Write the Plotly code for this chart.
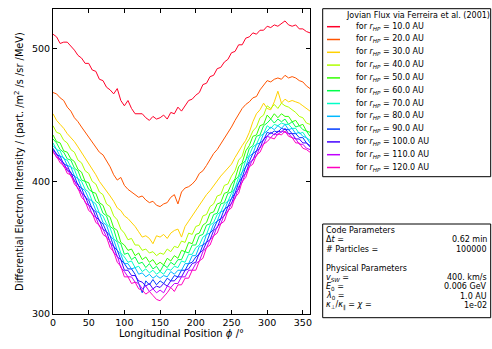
import plotly.graph_objects as go

# ---------------- data ----------------
phi = list(range(0, 361, 5))
r_hp = [10.0, 20.0, 30.0, 40.0, 50.0, 60.0, 70.0, 80.0, 90.0, 100.0, 110.0, 120.0]

flux_10 = [511, 509, 504, 505, 505,
           502, 499, 495, 493, 489,
           489, 484, 483, 477, 476,
           471, 469, 466, 470, 461,
           457, 461, 455, 451, 451,
           451, 448, 446, 449, 447,
           448, 450, 447, 452, 451,
           456, 453, 457, 461, 462,
           465, 467, 473, 474, 479,
           480, 485, 486, 490, 492,
           497, 498, 503, 503, 508,
           509, 512, 511, 514, 514,
           517, 516, 518, 517, 519,
           521, 518, 517, 518, 515,
           515, 513, 512]
flux_20 = [467, 466, 463, 461, 456,
           453, 448, 445, 441, 437,
           433, 429, 426, 422, 420,
           416, 411, 405, 401, 403,
           397, 394, 392, 390, 388,
           389, 386, 384, 385, 382,
           381, 383, 384, 388, 390,
           383, 392, 395, 396, 398,
           401, 406, 408, 412, 417,
           421, 424, 428, 433, 437,
           441, 446, 451, 455, 458,
           460, 463, 464, 469, 473,
           476, 475, 477, 478, 477,
           480, 478, 479, 478, 476,
           475, 472, 470]
flux_30 = [451, 446, 443, 440, 436,
           433, 430, 426, 422, 418,
           414, 409, 405, 400, 396,
           393, 389, 385, 380, 378,
           374, 372, 369, 366, 362,
           358, 359, 357, 353, 359,
           358, 360, 357, 361, 363,
           364, 358, 366, 370, 374,
           378, 383, 386, 390, 393,
           397, 400, 404, 407, 410,
           413, 418, 423, 427, 431,
           437, 445, 451, 454, 459,
           455, 454, 460, 468, 459,
           462, 460, 461, 460, 459,
           457, 455, 453]
flux_40 = [442, 437, 436, 431, 429,
           424, 422, 416, 414, 408,
           406, 400, 398, 392, 390,
           383, 381, 374, 371, 364,
           361, 356, 357, 352, 352,
           348, 349, 346, 347, 344,
           346, 345, 349, 347, 351,
           350, 355, 354, 361, 360,
           366, 367, 374, 375, 381,
           383, 389, 390, 397, 398,
           404, 408, 416, 419, 428,
           432, 438, 441, 448, 450,
           457, 455, 458, 455, 459,
           457, 456, 454, 452, 449,
           448, 444, 443]
flux_50 = [435, 430, 429, 423, 422,
           417, 415, 409, 407, 400,
           399, 392, 391, 384, 382,
           375, 373, 365, 363, 354,
           352, 348, 349, 344, 346,
           341, 343, 339, 341, 337,
           339, 337, 342, 340, 344,
           342, 348, 347, 354, 353,
           360, 361, 367, 369, 376,
           377, 383, 384, 391, 392,
           398, 402, 411, 414, 423,
           427, 434, 435, 442, 443,
           450, 447, 451, 448, 451,
           449, 449, 445, 446, 442,
           443, 438, 437]
flux_60 = [432, 429, 424, 422, 417,
           416, 410, 408, 401, 400,
           394, 392, 385, 383, 376,
           374, 366, 364, 355, 353,
           345, 346, 341, 343, 338,
           339, 335, 338, 334, 336,
           332, 337, 335, 339, 337,
           341, 341, 347, 346, 352,
           352, 359, 360, 367, 368,
           375, 376, 383, 384, 391,
           392, 401, 404, 413, 416,
           425, 427, 434, 435, 442,
           444, 447, 444, 447, 445,
           447, 443, 445, 441, 442,
           439, 438, 434]
flux_70 = [429, 424, 423, 417, 416,
           411, 409, 402, 400, 394,
           392, 385, 383, 376, 374,
           368, 365, 357, 354, 346,
           343, 339, 340, 335, 336,
           332, 334, 331, 333, 330,
           332, 330, 334, 333, 336,
           335, 340, 339, 345, 345,
           350, 352, 358, 360, 367,
           369, 375, 377, 383, 385,
           391, 395, 403, 407, 416,
           420, 426, 428, 434, 436,
           442, 440, 443, 442, 444,
           443, 443, 440, 440, 436,
           437, 433, 431]
flux_80 = [427, 424, 419, 418, 412,
           411, 404, 402, 395, 393,
           387, 385, 378, 376, 369,
           367, 359, 356, 348, 345,
           338, 338, 334, 335, 330,
           331, 328, 330, 327, 329,
           327, 329, 328, 332, 330,
           333, 333, 338, 338, 344,
           344, 351, 352, 360, 361,
           368, 370, 377, 378, 385,
           387, 395, 399, 407, 411,
           419, 421, 428, 429, 436,
           438, 441, 439, 442, 440,
           443, 439, 440, 436, 437,
           434, 433, 429]
flux_90 = [425, 420, 419, 413, 412,
           406, 404, 397, 395, 388,
           386, 379, 377, 370, 368,
           362, 359, 351, 348, 341,
           338, 334, 334, 330, 323,
           316, 325, 322, 326, 322,
           325, 323, 327, 325, 329,
           328, 333, 333, 338, 339,
           343, 345, 352, 354, 361,
           364, 370, 372, 379, 381,
           387, 391, 399, 403, 411,
           415, 421, 423, 429, 431,
           437, 436, 438, 437, 440,
           439, 439, 436, 436, 433,
           433, 429, 427]
flux_100 = [424, 421, 416, 414, 408,
            407, 400, 398, 391, 389,
            382, 380, 373, 371, 364,
            362, 354, 351, 343, 341,
            333, 333, 329, 329, 325,
            324, 321, 323, 319, 321,
            320, 323, 321, 325, 325,
            328, 328, 333, 334, 338,
            339, 346, 348, 354, 356,
            363, 365, 372, 374, 381,
            383, 391, 394, 403, 406,
            414, 416, 423, 425, 432,
            434, 437, 435, 438, 437,
            440, 436, 436, 432, 432,
            429, 429, 426]
flux_110 = [423, 418, 417, 411, 410,
            404, 401, 394, 392, 384,
            382, 375, 373, 366, 364,
            358, 355, 346, 344, 335,
            332, 328, 328, 324, 323,
            319, 321, 317, 319, 316,
            318, 316, 321, 320, 323,
            323, 328, 328, 333, 333,
            338, 340, 347, 350, 356,
            359, 366, 368, 375, 377,
            384, 387, 396, 399, 407,
            411, 417, 419, 426, 428,
            434, 433, 436, 435, 438,
            437, 436, 433, 432, 428,
            428, 425, 424]
flux_120 = [422, 419, 414, 412, 406,
            405, 398, 395, 388, 385,
            378, 376, 369, 367, 360,
            358, 350, 347, 339, 336,
            328, 328, 323, 324, 319,
            318, 315, 317, 314, 311,
            310, 313, 316, 320, 317,
            322, 322, 327, 327, 333,
            333, 340, 342, 350, 352,
            359, 361, 368, 370, 378,
            380, 388, 391, 400, 403,
            411, 413, 420, 422, 428,
            430, 433, 432, 436, 435,
            438, 434, 433, 429, 429,
            425, 424, 422]

series = [flux_10, flux_20, flux_30, flux_40, flux_50, flux_60,
          flux_70, flux_80, flux_90, flux_100, flux_110, flux_120]
for s in series:
    assert len(s) == len(phi), len(s)

legend_title = "Jovian Flux via Ferreira et al. (2001)"
param_rows = [
    ("Code Parameters", ""),
    ("Δ<i>t</i> =", "0.62 min"),
    ("# Particles =", "100000"),
    ("", ""),
    ("Physical Parameters", ""),
    ("<i>v</i><sub><i>SW</i></sub> =", "400. km/s"),
    ("<i>E</i><sub>0</sub> =", "0.006 GeV"),
    ("<i>λ</i><sub>0</sub> =", "1.0 AU"),
    ("<i>κ</i><sub>⊥</sub>/<i>κ</i><sub>∥</sub> = <i>χ</i> =", "1e-02"),
]

# gist_rainbow samples
colors = ["#ff0029", "#ff5400", "#ffd100", "#afff00", "#32ff00", "#00ff4b",
          "#00ffc7", "#00b9ff", "#003bff", "#4300ff", "#c100ff", "#ff00bf"]

# ---------------- figure ----------------
FW, FH = 492, 349
L, T, W, H = 53, 9, 257, 305
FONT = "DejaVu Sans"

def fx(px):
    return (px - L) / W

def fy(py):
    return (T + H - py) / H

fig = go.Figure()
for r, s, c in zip(r_hp, series, colors):
    fig.add_trace(go.Scatter(x=phi, y=s, mode="lines",
                             line=dict(color=c, width=1),
                             name=f"for r_HP = {r:.1f} AU",
                             showlegend=False, hoverinfo="skip"))

shapes = []
annotations = []

# legend box
shapes.append(dict(type="rect", xref="paper", yref="paper",
                   x0=fx(322.7), x1=fx(490.7), y0=fy(176.7), y1=fy(8.7),
                   line=dict(color="black", width=1), fillcolor="white", layer="above"))
annotations.append(dict(xref="paper", yref="paper", x=fx(418), y=fy(15.7),
                        text=legend_title, showarrow=False, xanchor="center",
                        yanchor="middle", font=dict(family=FONT, size=8, color="black")))
for i, (r, c) in enumerate(zip(r_hp, colors)):
    yy = 26.7 + 12.8 * i
    shapes.append(dict(type="line", xref="paper", yref="paper",
                       x0=fx(327), x1=fx(340), y0=fy(yy), y1=fy(yy),
                       line=dict(color=c, width=1.5), layer="above"))
    annotations.append(dict(xref="paper", yref="paper", x=fx(354), y=fy(yy),
                            text=f"for <i>r</i><sub><i>HP</i></sub> = {r:.1f} AU",
                            showarrow=False, xanchor="left", yanchor="middle",
                            font=dict(family=FONT, size=8, color="black")))

# parameter box
shapes.append(dict(type="rect", xref="paper", yref="paper",
                   x0=fx(322.7), x1=fx(490.7), y0=fy(317.7), y1=fy(224),
                   line=dict(color="black", width=1), fillcolor="white", layer="above"))
row_y = [230, 239.5, 249, 258.5, 268.3, 277.5, 286.8, 296, 305.5]
for (lt, rt), yy in zip(param_rows, row_y):
    if lt:
        annotations.append(dict(xref="paper", yref="paper", x=fx(324), y=fy(yy),
                                text=lt, showarrow=False, xanchor="left", yanchor="middle",
                                font=dict(family=FONT, size=8, color="black")))
    if rt:
        annotations.append(dict(xref="paper", yref="paper", x=fx(489), y=fy(yy),
                                text=rt, showarrow=False, xanchor="right", yanchor="middle",
                                font=dict(family=FONT, size=8, color="black")))

fig.update_layout(
    width=FW, height=FH,
    margin=dict(l=L, r=FW - L - W, t=T, b=FH - T - H, autoexpand=False),
    paper_bgcolor="white", plot_bgcolor="white",
    font=dict(family=FONT, size=9, color="black"),
    showlegend=False,
    shapes=shapes, annotations=annotations,
    xaxis=dict(range=[0, 360], tickvals=list(range(0, 351, 50)),
               ticks="inside", ticklen=4, tickcolor="black", tickwidth=1,
               showline=True, linecolor="black", linewidth=1, mirror="allticks",
               showgrid=False, zeroline=False,
               tickfont=dict(family=FONT, size=9.5),
               title=dict(text="Longitudinal Position <i>ϕ</i> /°",
                          font=dict(family=FONT, size=10), standoff=2)),
    yaxis=dict(range=[300, 530], tickvals=[300, 400, 500],
               ticks="inside", ticklen=4, tickcolor="black", tickwidth=1,
               showline=True, linecolor="black", linewidth=1, mirror="allticks",
               showgrid=False, zeroline=False,
               tickfont=dict(family=FONT, size=9.5),
               title=dict(text="Differential Electron Intensity / (part. /m<sup>2</sup> /s /sr /MeV)",
                          font=dict(family=FONT, size=9.8), standoff=6)),
)

fig.write_html("out.html", config={"displayModeBar": False})
